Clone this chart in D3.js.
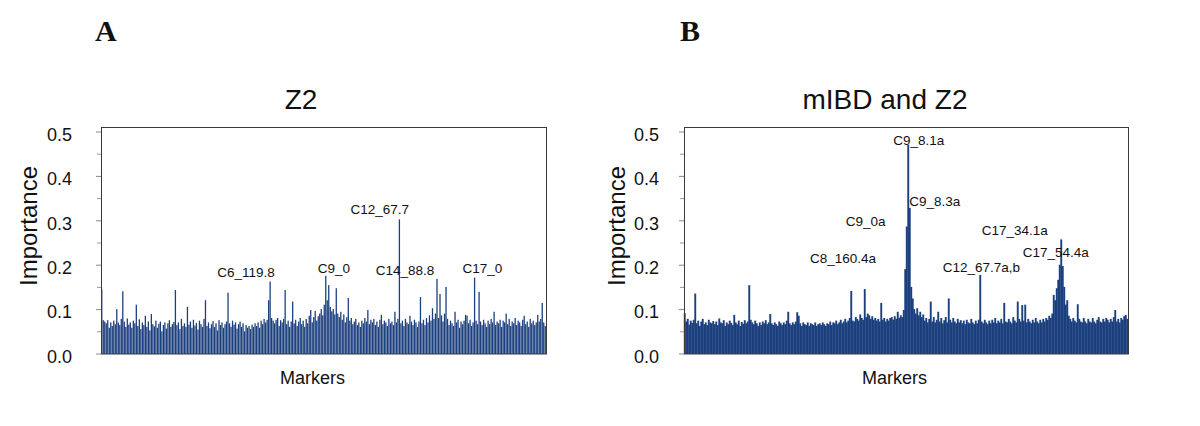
<!DOCTYPE html>
<html><head><meta charset="utf-8">
<script src="https://cdn.jsdelivr.net/npm/d3@7"></script>
<style>html,body{margin:0;padding:0;background:#fff;}svg{display:block;}</style>
</head><body>
<script>
// ---- data ----
const yTicks = [0.0, 0.1, 0.2, 0.3, 0.4, 0.5];
const yMinorTicks = [0.05, 0.15, 0.25, 0.35, 0.45];
const titleA = "Z2";
const titleB = "mIBD and Z2";
const panelLetters = ["A", "B"];
const xAxisLabel = "Markers";
const yAxisLabel = "Importance";

// Panel A: importance per marker (Z2)
const valuesA = [
.145,.075,.072,.068,.075,.058,.07,.062,.074,.066,.10,.07,.064,.078,.14,.072,.06,.079,.065,.07,
.058,.074,.068,.11,.062,.077,.055,.07,.064,.085,.06,.072,.052,.089,.066,.061,.074,.058,.067,.072,
.05,.064,.07,.056,.068,.075,.06,.066,.071,.143,.064,.07,.055,.078,.062,.068,.06,.105,.065,.072,
.058,.076,.063,.069,.054,.074,.066,.06,.078,.12,.062,.07,.057,.066,.073,.06,.068,.052,.075,.064,
.07,.058,.066,.072,.137,.068,.06,.074,.065,.07,.056,.066,.072,.06,.068,.05,.064,.058,.062,.055,
.065,.06,.068,.062,.07,.058,.074,.066,.078,.07,.076,.12,.162,.08,.074,.068,.076,.08,.062,.075,
.07,.078,.143,.066,.074,.06,.072,.117,.068,.076,.062,.072,.08,.066,.074,.06,.078,.068,.085,.098,
.07,.082,.096,.074,.084,.09,.1,.086,.11,.175,.12,.154,.105,.095,.1,.088,.147,.09,.082,.094,
.076,.088,.07,.082,.125,.074,.08,.066,.072,.078,.064,.07,.06,.074,.068,.08,.072,.098,.066,.076,
.07,.078,.064,.072,.06,.076,.087,.066,.074,.07,.062,.078,.068,.072,.064,.094,.07,.078,.302,.068,
.074,.062,.078,.07,.066,.085,.072,.064,.076,.07,.06,.072,.127,.068,.076,.064,.08,.07,.086,.074,
.102,.078,.09,.168,.08,.134,.086,.072,.09,.15,.078,.064,.074,.068,.062,.094,.07,.076,.058,.072,
.066,.074,.087,.085,.068,.076,.062,.07,.171,.074,.066,.139,.072,.064,.076,.068,.06,.074,.066,.078,
.07,.094,.064,.072,.068,.076,.06,.074,.07,.09,.066,.078,.062,.072,.068,.08,.064,.074,.07,.062,
.076,.085,.066,.072,.06,.078,.068,.074,.064,.07,.087,.072,.078,.114,.07,.062
];

// Panel B: importance per marker (mIBD and Z2)
const valuesB = [
.091,.072,.078,.065,.074,.069,.076,.135,.068,.074,.062,.072,.078,.066,.07,.064,.076,.07,.068,.073,
.066,.072,.064,.079,.07,.068,.075,.062,.07,.066,.074,.069,.064,.087,.07,.066,.074,.062,.071,.067,
.075,.068,.072,.154,.076,.07,.066,.074,.068,.062,.07,.064,.072,.068,.075,.066,.07,.089,.068,.064,
.07,.066,.062,.072,.068,.064,.07,.066,.074,.094,.068,.064,.07,.066,.072,.093,.085,.068,.062,.07,
.066,.064,.07,.062,.068,.066,.064,.07,.062,.066,.068,.064,.07,.066,.062,.068,.066,.072,.064,.07,
.068,.074,.066,.07,.076,.068,.072,.078,.07,.074,.08,.141,.074,.072,.082,.078,.074,.088,.08,.076,
.145,.082,.09,.086,.078,.084,.076,.08,.074,.078,.072,.114,.076,.08,.072,.078,.074,.08,.082,.076,
.084,.078,.094,.08,.086,.082,.098,.19,.286,.47,.328,.15,.124,.1,.09,.102,.086,.094,.082,.088,
.074,.08,.07,.078,.117,.072,.082,.07,.076,.094,.072,.08,.068,.075,.082,.07,.124,.076,.07,.08,
.072,.068,.078,.07,.075,.068,.074,.066,.076,.07,.068,.078,.07,.066,.074,.068,.076,.177,.072,.068,
.076,.07,.066,.074,.068,.076,.07,.08,.068,.074,.07,.078,.068,.114,.072,.07,.078,.072,.068,.082,
.074,.07,.117,.078,.072,.109,.074,.11,.07,.078,.072,.068,.076,.07,.08,.072,.068,.076,.07,.078,
.072,.08,.076,.085,.08,.09,.132,.12,.147,.166,.2,.257,.197,.15,.11,.12,.085,.078,.072,.08,
.074,.07,.111,.078,.072,.07,.08,.072,.068,.078,.072,.07,.08,.072,.068,.076,.082,.072,.07,.078,
.072,.08,.076,.07,.078,.072,.082,.098,.072,.078,.07,.08,.076,.084,.087,.078
];

// Peak annotations: text, label position in (marker index, importance) units
const labelsA = ["C6_119.8", "C9_0", "C12_67.7", "C14_88.8", "C17_0"];
const labelPosA = [[77.3, .173], [144.2, .182], [166, .3135], [182.7, .177], [240.5, .181]];
const labelsB = ["C8_160.4a", "C9_0a", "C9_8.1a", "C9_8.3a", "C17_34.1a", "C17_54.4a", "C12_67.7a,b"];
const labelPosB = [[84, .2045], [107.8, .287], [139.5, .4696], [150.2, .333], [198.5, .267], [225.8, .218], [172.5, .184]];

// ---- drawing ----
const W = 1200, H = 426;
const svg = d3.select("body").append("svg").attr("width", W).attr("height", H);
svg.append("rect").attr("width", W).attr("height", H).attr("fill", "#fff");

const SANS = "'Liberation Sans', Arial, sans-serif";
const BAR = "#1c3f7e";

function panel(cfg) {
  const { values, labels, labelPos, left, right, title, titleX, letter, letterX,
          tickLabelX, ylabX, markersX, solid } = cfg;
  const yTop = 131.5, yBot = 353.5, boxTop = 127;
  const x = d3.scaleLinear().domain([0, values.length]).range([left, right]);
  const y = d3.scaleLinear().domain([0, 0.5]).range([yBot, yTop]);
  const g = svg.append("g");
  const step = x(1) - x(0);

  // bars
  g.append("g").selectAll("rect").data(values).join("rect")
    .attr("x", (d, i) => x(i) + (solid ? -0.2 : 0.1))
    .attr("width", solid ? step + 0.4 : step * 0.86)
    .attr("y", d => y(d))
    .attr("height", d => yBot - y(d) + 0.5)
    .attr("fill", BAR);

  // frame
  g.append("rect").attr("x", left + 0.5).attr("y", boxTop + 0.5)
    .attr("width", right - left).attr("height", yBot - boxTop)
    .attr("fill", "none").attr("stroke", "#3a3a3a").attr("stroke-width", 1);

  // y axis major ticks + labels
  const axis = d3.axisLeft(y).tickValues(yTicks).tickFormat(d3.format(".1f"))
    .tickSize(5).tickPadding(left - tickLabelX - 5);
  const ag = g.append("g").attr("transform", `translate(${left},0)`).call(axis);
  ag.select(".domain").remove();
  ag.selectAll(".tick line").attr("stroke", "#888");
  ag.selectAll(".tick text").attr("font-family", SANS).attr("font-size", 18)
    .attr("fill", "#111").attr("dy", "0.65em").attr("y", -3);
  // minor ticks
  const minor = d3.axisLeft(y).tickValues(yMinorTicks).tickFormat("").tickSize(4);
  const mg = g.append("g").attr("transform", `translate(${left},0)`).call(minor);
  mg.select(".domain").remove();
  mg.selectAll(".tick line").attr("stroke", "#999");

  // annotations
  g.append("g").selectAll("text").data(labels).join("text")
    .attr("x", (d, i) => x(labelPos[i][0]))
    .attr("y", (d, i) => y(labelPos[i][1]))
    .attr("font-family", SANS).attr("font-size", 13.5).attr("fill", "#111")
    .text(d => d);

  // title
  g.append("text").attr("x", titleX).attr("y", 109).attr("text-anchor", "middle")
    .attr("font-family", SANS).attr("font-size", 28).attr("fill", "#111").text(title);
  // panel letter
  g.append("text").attr("x", letterX).attr("y", 41)
    .attr("font-family", "'Liberation Serif', 'Times New Roman', serif")
    .attr("font-weight", "bold").attr("font-size", 30).attr("fill", "#111").text(letter);
  // x label
  g.append("text").attr("x", markersX).attr("y", 383.5)
    .attr("font-family", SANS).attr("font-size", 18).attr("fill", "#111").text(xAxisLabel);
  // y label
  g.append("text").attr("transform", `translate(${ylabX},226) rotate(-90)`)
    .attr("text-anchor", "middle").attr("font-family", SANS).attr("font-size", 24)
    .attr("fill", "#111").text(yAxisLabel);
}

panel({ values: valuesA, labels: labelsA, labelPos: labelPosA, left: 101, right: 546,
        title: titleA, titleX: 301, letter: panelLetters[0], letterX: 95,
        tickLabelX: 72, ylabX: 37, markersX: 280, solid: false });
panel({ values: valuesB, labels: labelsB, labelPos: labelPosB, left: 684, right: 1128,
        title: titleB, titleX: 885, letter: panelLetters[1], letterX: 680,
        tickLabelX: 659, ylabX: 625, markersX: 862, solid: true });
</script>
</body></html>
